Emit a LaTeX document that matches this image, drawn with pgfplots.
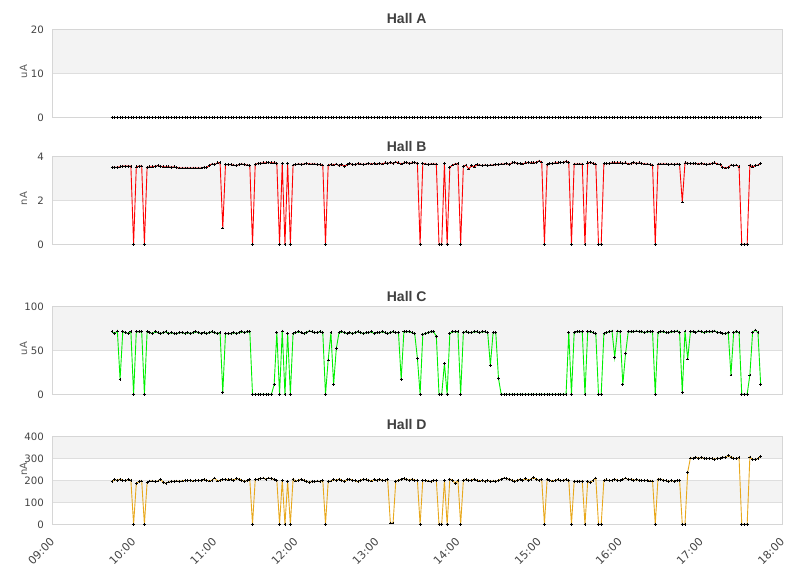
\documentclass[border=0pt]{standalone}
\usepackage{pgfplots}
\pgfplotsset{compat=1.18}
\usepackage{pgfplotstable}
\usepackage{fontspec}
\setmainfont{DejaVu Sans}
\newfontfamily\titlefont{Liberation Sans}
\definecolor{bandgray}{RGB}{243,243,243}
\definecolor{gridgray}{RGB}{222,222,222}
\definecolor{framegray}{RGB}{214,214,214}
\definecolor{ticktext}{RGB}{68,68,68}
\definecolor{labeltext}{RGB}{90,90,90}
\definecolor{titletext}{RGB}{64,64,64}
\definecolor{hallB}{RGB}{255,0,0}
\definecolor{hallC}{RGB}{0,240,0}
\definecolor{hallD}{RGB}{232,168,28}

\pgfplotstableread{
t A B C D
44 0 3.50 71 193
46 0 3.50 69 203
48 0 3.50 72 200
50 0 3.52 17 205
52 0 3.55 71 200
54 0 3.55 70 198
56 0 3.55 69 203
58 0 3.55 71 200
60 0 0 0 0
62 0 3.52 71 185
64 0 3.55 71 195
66 0 3.56 71 197
68 0 0 0 0
70 0 3.50 71 190
72 0 3.52 70 197
74 0 3.52 69 197
76 0 3.55 71 193
78 0 3.57 70 197
80 0 3.55 69 205
82 0 3.52 70 190
84 0 3.52 71 187
86 0 3.52 69 192
88 0 3.50 70 195
90 0 3.52 69 195
92 0 3.48 69 197
94 0 3.47 70 195
96 0 3.47 70 197
98 0 3.47 69 200
100 0 3.47 70 198
102 0 3.47 69 200
104 0 3.47 70 197
106 0 3.47 71 200
108 0 3.47 70 200
110 0 3.47 69 198
112 0 3.50 70 203
114 0 3.48 69 200
116 0 3.58 70 197
118 0 3.65 71 200
120 0 3.62 70 210
122 0 3.70 69 197
124 0 3.72 70 200
126 0 0.74 2 203
128 0 3.62 69 205
130 0 3.62 69 202
132 0 3.62 69 205
134 0 3.60 70 200
136 0 3.57 69 208
138 0 3.62 70 205
140 0 3.65 71 200
142 0 3.62 70 195
144 0 3.60 71 198
146 0 3.58 71 203
148 0 0 0 0
150 0 3.64 0 203
152 0 3.67 0 205
154 0 3.68 0 207
156 0 3.70 0 210
158 0 3.70 0 205
160 0 3.72 0 210
162 0 3.70 0 208
164 0 3.70 11 203
166 0 3.68 70 200
168 0 0 0 0
170 0 3.67 72 200
172 0 0 0 0
174 0 3.67 69 195
176 0 0 0 0
178 0 3.60 69 205
180 0 3.62 70 197
182 0 3.65 71 200
184 0 3.63 70 205
186 0 3.65 69 200
188 0 3.68 70 195
190 0 3.65 72 190
192 0 3.65 71 195
194 0 3.65 70 193
196 0 3.62 70 197
198 0 3.62 71 193
200 0 3.60 70 200
202 0 0 0 0
204 0 3.60 39 195
206 0 3.62 70 197
208 0 3.60 11 203
210 0 3.65 52 200
212 0 3.57 70 205
214 0 3.62 71 200
216 0 3.55 70 195
218 0 3.62 69 203
220 0 3.67 70 205
222 0 3.62 69 200
224 0 3.62 70 198
226 0 3.67 71 193
228 0 3.65 70 200
230 0 3.62 69 205
232 0 3.65 70 203
234 0 3.67 70 200
236 0 3.65 71 197
238 0 3.67 69 203
240 0 3.65 70 200
242 0 3.67 70 203
244 0 3.65 71 200
246 0 3.70 70 200
248 0 3.67 69 203
250 0 3.72 70 6
252 0 3.67 71 6
254 0 3.74 70 195
256 0 3.70 70 200
258 0 3.65 17 205
260 0 3.70 71 207
262 0 3.72 71 205
264 0 3.67 71 200
266 0 3.70 70 205
268 0 3.72 69 200
270 0 3.67 41 200
272 0 0 0 0
274 0 3.68 68 200
276 0 3.65 69 198
278 0 3.62 70 197
280 0 3.65 71 193
282 0 3.65 71 200
284 0 3.65 66 200
286 0 0 0 0
288 0 0 0 0
290 0 3.67 35 200
292 0 0 0 0
294 0 3.50 69 205
296 0 3.60 71 200
298 0 3.65 71 186
300 0 3.67 71 200
302 0 0 0 0
304 0 3.55 70 200
306 0 3.60 71 203
308 0 3.42 70 200
310 0 3.57 70 200
312 0 3.52 71 205
314 0 3.62 71 200
316 0 3.60 70 197
318 0 3.57 71 200
320 0 3.60 71 195
322 0 3.57 70 200
324 0 3.60 33 195
326 0 3.60 70 197
328 0 3.62 70 195
330 0 3.62 18 200
332 0 3.65 0 205
334 0 3.65 0 210
336 0 3.67 0 207
338 0 3.62 0 205
340 0 3.70 0 200
342 0 3.72 0 195
344 0 3.67 0 200
346 0 3.67 0 205
348 0 3.65 0 200
350 0 3.70 0 207
352 0 3.72 0 200
354 0 3.70 0 205
356 0 3.70 0 212
358 0 3.72 0 205
360 0 3.79 0 200
362 0 3.74 0 203
364 0 0 0 0
366 0 3.62 0 205
368 0 3.67 0 200
370 0 3.67 0 197
372 0 3.70 0 200
374 0 3.70 0 203
376 0 3.72 0 198
378 0 3.72 0 200
380 0 3.77 0 203
382 0 3.72 70 200
384 0 0 0 0
386 0 3.65 70 195
388 0 3.65 71 195
390 0 3.65 71 195
392 0 3.65 71 195
394 0 0 0 0
396 0 3.70 71 193
398 0 3.72 71 190
400 0 3.67 70 200
402 0 3.65 69 210
404 0 0 0 0
406 0 0 0 0
408 0 3.67 69 200
410 0 3.67 70 202
412 0 3.67 71 198
414 0 3.70 72 200
416 0 3.70 42 205
418 0 3.70 72 200
420 0 3.70 71 198
422 0 3.67 11 203
424 0 3.70 46 210
426 0 3.65 71 203
428 0 3.67 71 205
430 0 3.72 71 200
432 0 3.67 72 203
434 0 3.70 71 200
436 0 3.67 71 200
438 0 3.65 70 198
440 0 3.65 71 200
442 0 3.62 71 197
444 0 3.60 71 197
446 0 0 0 0
448 0 3.65 70 205
450 0 3.65 71 205
452 0 3.65 71 200
454 0 3.65 70 198
456 0 3.62 70 195
458 0 3.65 71 200
460 0 3.62 71 195
462 0 3.65 72 198
464 0 3.62 70 200
466 0 1.92 2 0
468 0 3.70 72 0
470 0 3.68 40 237
472 0 3.67 71 301
474 0 3.67 71 300
476 0 3.67 70 305
478 0 3.65 72 300
480 0 3.67 71 303
482 0 3.65 70 300
484 0 3.62 71 298
486 0 3.65 71 300
488 0 3.67 71 298
490 0 3.70 72 296
492 0 3.65 70 300
494 0 3.62 70 300
496 0 3.50 69 305
498 0 3.47 69 303
500 0 3.50 70 313
502 0 3.60 22 305
504 0 3.57 70 300
506 0 3.60 71 298
508 0 3.52 70 303
510 0 0 0 0
512 0 0 0 0
514 0 0 0 0
516 0 3.59 22 306
518 0 3.52 70 294
520 0 3.57 73 295
522 0 3.60 70 298
524 0 3.67 11 309
}\halldata

\tikzset{bottomline/.style={framegray, line width=1bp}}
\pgfplotsset{
  hallaxis/.style={
    set layers,
    scale only axis, width=729.8bp, height=88bp,
    anchor=south west,
    xmin=0, xmax=540, xtick={0,60,...,540},
    xticklabels={},
    major tick length=0pt,
    axis line style={framegray, line width=1bp},
    ymajorgrids, grid style={gridgray, line width=1bp},
    /pgf/number format/assume math mode=true,
    yticklabel style={font=\fontsize{10.2bp}{12bp}\selectfont, text=ticktext, inner sep=0pt, xshift=-8.5bp},
    every axis y label/.style={at={(rel axis cs:0,0.52)}, xshift=-29bp, rotate=90, anchor=center,
      font=\fontsize{10bp}{12bp}\selectfont, text=labeltext},
  },
  band/.style={draw=none, fill=bandgray, on layer=axis background, forget plot},
  hallmarks/.style={mark=+, mark size=1.4bp, mark options={black, line width=0.7bp, solid}},
  hallline/.style={line width=0.9bp, hallmarks},
}

\begin{document}
\begin{tikzpicture}
\path (0,0) rectangle (811bp,578bp);

% Hall A
\begin{axis}[hallaxis, at={(52.5bp,460.7bp)}, ymin=0, ymax=20, ytick={0,10,20}, ylabel={uA}]
\addplot[band] coordinates {(0,10) (540,10) (540,20) (0,20) (0,10)};
\draw[bottomline] (rel axis cs:0,0) -- (rel axis cs:1,0);
\addplot[only marks, hallmarks] table[x=t, y=A] {\halldata};
\end{axis}

% Hall B
\begin{axis}[hallaxis, at={(52.5bp,333.7bp)}, ymin=0, ymax=4, ytick={0,2,4}, ylabel={nA}]
\addplot[band] coordinates {(0,2) (540,2) (540,4) (0,4) (0,2)};
\addplot[hallline, hallB] table[x=t, y=B] {\halldata};
\draw[bottomline] (rel axis cs:0,0) -- (rel axis cs:1,0);
\end{axis}

% Hall C
\begin{axis}[hallaxis, at={(52.5bp,183.7bp)}, ymin=0, ymax=100, ytick={0,50,100}, ylabel={uA}]
\addplot[band] coordinates {(0,50) (540,50) (540,100) (0,100) (0,50)};
\addplot[hallline, hallC] table[x=t, y=C] {\halldata};
\draw[bottomline] (rel axis cs:0,0) -- (rel axis cs:1,0);
\end{axis}

% Hall D
\begin{axis}[hallaxis, at={(52.5bp,53.7bp)}, ymin=0, ymax=400, ytick={0,100,200,300,400}, ylabel={nA},
  every axis y label/.append style={at={(rel axis cs:0,0.628)}},
  xticklabels={09:00,10:00,11:00,12:00,13:00,14:00,15:00,16:00,17:00,18:00},
  xticklabel style={font=\fontsize{11bp}{13bp}\selectfont, text=ticktext, inner sep=0pt, anchor=east, yshift=-15.4bp, rotate=45}]
\addplot[band] coordinates {(0,100) (540,100) (540,200) (0,200) (0,100)};
\addplot[band] coordinates {(0,300) (540,300) (540,400) (0,400) (0,300)};
\addplot[hallline, hallD] table[x=t, y=D] {\halldata};
\draw[bottomline] (rel axis cs:0,0) -- (rel axis cs:1,0);
\end{axis}

\node[anchor=base, text=titletext, font=\titlefont\bfseries\fontsize{14bp}{16bp}\selectfont] at (406.7bp,554bp) {Hall A};
\node[anchor=base, text=titletext, font=\titlefont\bfseries\fontsize{14bp}{16bp}\selectfont] at (406.7bp,426.3bp) {Hall B};
\node[anchor=base, text=titletext, font=\titlefont\bfseries\fontsize{14bp}{16bp}\selectfont] at (406.7bp,276.3bp) {Hall C};
\node[anchor=base, text=titletext, font=\titlefont\bfseries\fontsize{14bp}{16bp}\selectfont] at (406.7bp,148bp) {Hall D};
\end{tikzpicture}
\end{document}
